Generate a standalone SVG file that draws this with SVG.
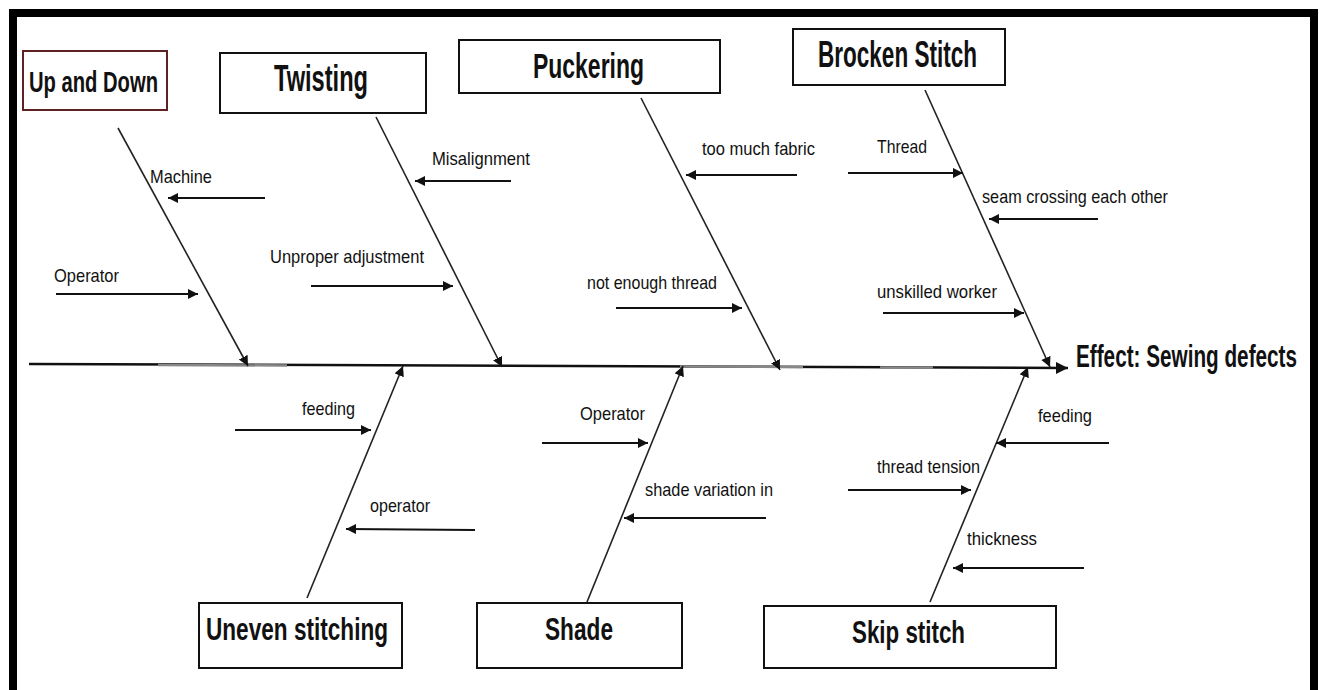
<svg xmlns="http://www.w3.org/2000/svg" width="1320" height="690" viewBox="0 0 1320 690">
<style>
.frame{fill:#fff;stroke:#000;stroke-width:8}
.box{fill:#fff;stroke:#111;stroke-width:2}
.big{font-family:"Liberation Sans",Arial,sans-serif;font-weight:bold;fill:#111}
.small{font-family:"Liberation Sans",Arial,sans-serif;font-size:19px;fill:#111}
.bone{stroke:#222;stroke-width:1.6;fill:none}
.cause{stroke:#111;stroke-width:2;fill:none}
.spine{stroke:#111;stroke-width:2.5;fill:none}
</style>
<defs>
<marker id="ah" markerUnits="userSpaceOnUse" markerWidth="12" markerHeight="12" refX="10" refY="5" orient="auto">
<path d="M0,0 L10,5 L0,10 Z" fill="#111"/>
</marker>
<marker id="ahb" markerUnits="userSpaceOnUse" markerWidth="14" markerHeight="14" refX="12" refY="6" orient="auto">
<path d="M0,0 L12,6 L0,12 Z" fill="#111"/>
</marker>
</defs>
<rect class="frame" x="13" y="13" width="1301" height="681"/>

<g id="connectors">
<line class="spine" x1="29" y1="364" x2="1068" y2="368" marker-end="url(#ahb)"/>
<line x1="158" y1="365" x2="287" y2="365.5" stroke="#888" stroke-width="2.5"/>
<line x1="680" y1="366.5" x2="803" y2="367" stroke="#888" stroke-width="2.5"/>
<line x1="880" y1="367.4" x2="933" y2="367.6" stroke="#888" stroke-width="2.5"/>
<line class="bone" x1="118" y1="128" x2="248" y2="366" marker-end="url(#ah)"/>
<line class="bone" x1="376" y1="117" x2="502" y2="367" marker-end="url(#ah)"/>
<line class="bone" x1="641" y1="98" x2="780" y2="370" marker-end="url(#ah)"/>
<line class="bone" x1="925" y1="90" x2="1050" y2="367" marker-end="url(#ah)"/>
<line class="bone" x1="307" y1="598" x2="403" y2="366" marker-end="url(#ah)"/>
<line class="bone" x1="587" y1="602" x2="683" y2="366" marker-end="url(#ah)"/>
<line class="bone" x1="930" y1="602" x2="1028" y2="367" marker-end="url(#ah)"/>
<line class="cause" x1="265" y1="198" x2="168" y2="198" marker-end="url(#ah)"/>
<line class="cause" x1="56" y1="294" x2="198" y2="294" marker-end="url(#ah)"/>
<line class="cause" x1="511" y1="181" x2="415" y2="181" marker-end="url(#ah)"/>
<line class="cause" x1="311" y1="286" x2="453" y2="286" marker-end="url(#ah)"/>
<line class="cause" x1="797" y1="175" x2="686" y2="175" marker-end="url(#ah)"/>
<line class="cause" x1="848" y1="173" x2="963" y2="173" marker-end="url(#ah)"/>
<line class="cause" x1="1098" y1="219" x2="989" y2="219" marker-end="url(#ah)"/>
<line class="cause" x1="616" y1="308" x2="742" y2="308" marker-end="url(#ah)"/>
<line class="cause" x1="883" y1="313" x2="1024" y2="313" marker-end="url(#ah)"/>
<line class="cause" x1="235" y1="430" x2="371" y2="430" marker-end="url(#ah)"/>
<line class="cause" x1="475" y1="530" x2="346" y2="529" marker-end="url(#ah)"/>
<line class="cause" x1="542" y1="443" x2="648" y2="443" marker-end="url(#ah)"/>
<line class="cause" x1="766" y1="518" x2="624" y2="518" marker-end="url(#ah)"/>
<line class="cause" x1="848" y1="490" x2="971" y2="490" marker-end="url(#ah)"/>
<line class="cause" x1="1109" y1="443" x2="996" y2="443" marker-end="url(#ah)"/>
<line class="cause" x1="1084" y1="568" x2="953" y2="568" marker-end="url(#ah)"/>
</g>

<g id="up-and-down">
<rect x="23" y="51" width="144" height="59" fill="#fff" stroke="#5e2222" stroke-width="2"/>
<text class="big" x="29" y="92" font-size="30" textLength="129" lengthAdjust="spacingAndGlyphs">Up and Down</text>
</g>
<g id="twisting">
<rect class="box" x="220" y="53" width="206" height="60"/>
<text class="big" x="274" y="91" font-size="36" textLength="94" lengthAdjust="spacingAndGlyphs">Twisting</text>
</g>
<g id="puckering">
<rect class="box" x="459" y="40" width="261" height="53"/>
<text class="big" x="533" y="78" font-size="35" textLength="111" lengthAdjust="spacingAndGlyphs">Puckering</text>
</g>
<g id="brocken-stitch">
<rect class="box" x="793" y="29" width="212" height="56"/>
<text class="big" x="818" y="67" font-size="36" textLength="159" lengthAdjust="spacingAndGlyphs">Brocken Stitch</text>
</g>
<g id="effect">
<text class="big" x="1076" y="367" font-size="31" textLength="221" lengthAdjust="spacingAndGlyphs">Effect: Sewing defects</text>
</g>
<g id="uneven-stitching">
<rect class="box" x="199" y="603" width="203" height="65"/>
<text class="big" x="206" y="640" font-size="32" textLength="182" lengthAdjust="spacingAndGlyphs">Uneven stitching</text>
</g>
<g id="shade">
<rect class="box" x="477" y="603" width="205" height="65"/>
<text class="big" x="545" y="640" font-size="32" textLength="68" lengthAdjust="spacingAndGlyphs">Shade</text>
</g>
<g id="skip-stitch">
<rect class="box" x="764" y="606" width="292" height="62"/>
<text class="big" x="852" y="643" font-size="32" textLength="113" lengthAdjust="spacingAndGlyphs">Skip stitch</text>
</g>

<g id="cause-labels">
<text class="small" x="150" y="183" textLength="62" lengthAdjust="spacingAndGlyphs">Machine</text>
<text class="small" x="54" y="282" textLength="65" lengthAdjust="spacingAndGlyphs">Operator</text>
<text class="small" x="432" y="165" textLength="98" lengthAdjust="spacingAndGlyphs">Misalignment</text>
<text class="small" x="270" y="263" textLength="154" lengthAdjust="spacingAndGlyphs">Unproper adjustment</text>
<text class="small" x="702" y="155" textLength="113" lengthAdjust="spacingAndGlyphs">too much fabric</text>
<text class="small" x="877" y="153" textLength="50" lengthAdjust="spacingAndGlyphs">Thread</text>
<text class="small" x="982" y="203" textLength="186" lengthAdjust="spacingAndGlyphs">seam crossing each other</text>
<text class="small" x="587" y="289" textLength="130" lengthAdjust="spacingAndGlyphs">not enough thread</text>
<text class="small" x="877" y="298" textLength="120" lengthAdjust="spacingAndGlyphs">unskilled worker</text>
<text class="small" x="302" y="415" textLength="53" lengthAdjust="spacingAndGlyphs">feeding</text>
<text class="small" x="370" y="512" textLength="60" lengthAdjust="spacingAndGlyphs">operator</text>
<text class="small" x="580" y="420" textLength="65" lengthAdjust="spacingAndGlyphs">Operator</text>
<text class="small" x="645" y="496" textLength="128" lengthAdjust="spacingAndGlyphs">shade variation in</text>
<text class="small" x="877" y="473" textLength="103" lengthAdjust="spacingAndGlyphs">thread tension</text>
<text class="small" x="1038" y="422" textLength="54" lengthAdjust="spacingAndGlyphs">feeding</text>
<text class="small" x="967" y="545" textLength="70" lengthAdjust="spacingAndGlyphs">thickness</text>
</g>
</svg>
